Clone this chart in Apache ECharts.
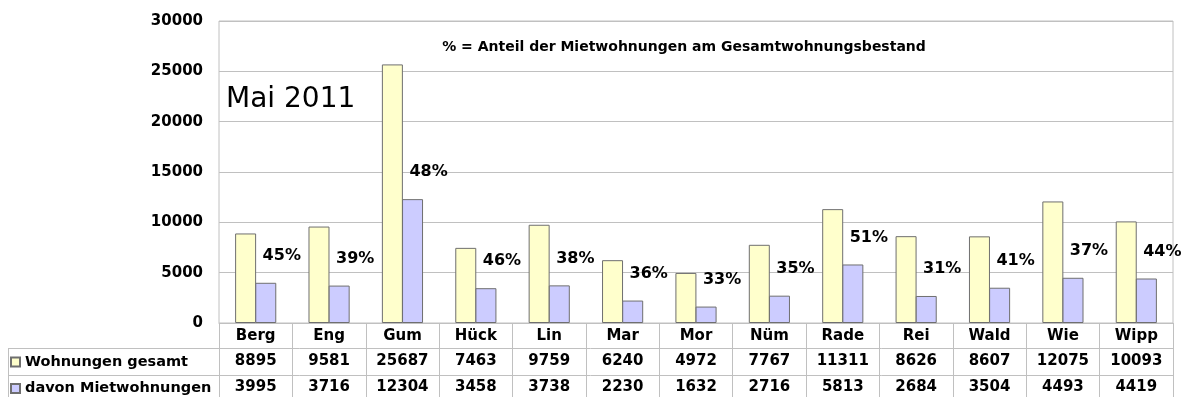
<!DOCTYPE html>
<html>
<head>
<meta charset="utf-8">
<script src="https://cdn.jsdelivr.net/npm/echarts@6/dist/echarts.min.js"></script>
<style>
  html, body { margin: 0; padding: 0; background: #fff; }
  #chart { width: 1187px; height: 397px; }
</style>
</head>
<body>
<div id="chart"></div>
<script>
// Stadtteile (Spalten der Datentabelle)
const categories = ['Berg', 'Eng', 'Gum', 'Hück', 'Lin', 'Mar', 'Mor', 'Nüm', 'Rade', 'Rei', 'Wald', 'Wie', 'Wipp'];
// Wohnungsbestand insgesamt
const wohnungenGesamt = [8895, 9581, 25687, 7463, 9759, 6240, 4972, 7767, 11311, 8626, 8607, 12075, 10093];
// davon Mietwohnungen
const mietwohnungen = [3995, 3716, 12304, 3458, 3738, 2230, 1632, 2716, 5813, 2684, 3504, 4493, 4419];
// Werteachse
const yMin = 0, yMax = 30000, yStep = 5000;

const FONT = 'DejaVu Sans';
const GRID_LINE = '#c0c0c0';
const BAR_EDGE = '#6f6f6f';

const chart = echarts.init(document.getElementById('chart'), null, { renderer: 'canvas' });

const boldText = { fontFamily: FONT, fontWeight: 'bold', fontSize: 15, color: '#000' };

// Anteil der Mietwohnungen am Gesamtbestand in Prozent
const anteil = i => Math.round(mietwohnungen[i] / wohnungenGesamt[i] * 100) + '%';

// Tabellenzeilen unter dem Diagramm als zusätzliche Kategorieachsen
function tableAxis(offset, values) {
  return {
    type: 'category',
    data: categories,
    position: 'bottom',
    offset: offset,
    axisLine: { show: false },
    axisTick: { show: false },
    axisLabel: Object.assign({ margin: 5, interval: 0, formatter: (v, i) => String(values[i]) }, boldText)
  };
}

const option = {
  animation: false,
  backgroundColor: '#fff',
  grid: {
    left: 219, right: 14, top: 21, bottom: 74,
    show: true, borderColor: GRID_LINE, borderWidth: 1
  },
  legend: {
    orient: 'vertical',
    left: 10, top: 354,
    itemWidth: 9, itemHeight: 9, itemGap: 10.5,
    icon: 'rect',
    padding: 0,
    textStyle: Object.assign({}, boldText, { fontSize: 14.5, lineHeight: 16 }),
    selectedMode: false
  },
  xAxis: [
    {
      type: 'category',
      data: categories,
      position: 'bottom',
      axisLine: { show: true, lineStyle: { color: GRID_LINE } },
      axisTick: { show: true, length: 74, alignWithLabel: false, lineStyle: { color: GRID_LINE } },
      axisLabel: Object.assign({ margin: 6, interval: 0 }, boldText)
    },
    tableAxis(26, wohnungenGesamt),
    tableAxis(52, mietwohnungen)
  ],
  yAxis: {
    type: 'value',
    min: yMin, max: yMax, interval: yStep,
    axisLine: { show: false },
    axisTick: { show: false },
    splitLine: { lineStyle: { color: GRID_LINE } },
    axisLabel: Object.assign({ margin: 16, formatter: v => String(v) }, boldText)
  },
  graphic: [
    // horizontale Tabellenlinien (inkl. Legendenspalte)
    { type: 'line', shape: { x1: 8, y1: 348.5, x2: 1173, y2: 348.5 }, style: { stroke: GRID_LINE, lineWidth: 1 }, silent: true },
    { type: 'line', shape: { x1: 8, y1: 375.5, x2: 1173, y2: 375.5 }, style: { stroke: GRID_LINE, lineWidth: 1 }, silent: true },
    { type: 'line', shape: { x1: 8.5, y1: 348, x2: 8.5, y2: 397 }, style: { stroke: GRID_LINE, lineWidth: 1 }, silent: true },
    {
      type: 'text', left: 226, top: 86, silent: true,
      style: { text: 'Mai 2011', font: 'normal 28px "DejaVu Sans"', fill: '#000' }
    },
    {
      type: 'text', x: 684, y: 47, silent: true,
      style: {
        text: '% = Anteil der Mietwohnungen am Gesamtwohnungsbestand',
        font: 'bold 14px "DejaVu Sans"', fill: '#000',
        textAlign: 'center', textVerticalAlign: 'middle'
      }
    }
  ],
  series: [
    {
      name: 'Wohnungen gesamt',
      type: 'bar',
      data: wohnungenGesamt,
      barWidth: 21,
      barGap: '-4%',
      itemStyle: { color: '#FFFFCC', borderColor: BAR_EDGE, borderWidth: 1 }
    },
    {
      name: 'davon Mietwohnungen',
      type: 'bar',
      data: mietwohnungen,
      barWidth: 21,
      barGap: '-4%',
      itemStyle: { color: '#CCCCFF', borderColor: BAR_EDGE, borderWidth: 1 },
      label: {
        show: true,
        position: 'top',
        distance: 5,
        offset: [16, -14],
        fontFamily: FONT, fontWeight: 'bold', fontSize: 16, color: '#000',
        formatter: p => anteil(p.dataIndex)
      }
    }
  ]
};

chart.setOption(option);
</script>
</body>
</html>
